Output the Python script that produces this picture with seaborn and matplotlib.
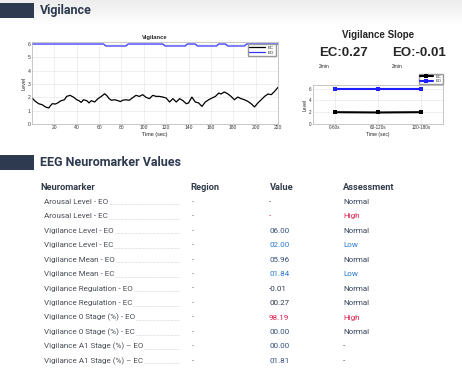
import numpy as np
import pandas as pd
import matplotlib
matplotlib.use("Agg")
import matplotlib.pyplot as plt
import seaborn as sns
from matplotlib.lines import Line2D
from matplotlib.patches import Rectangle

# --- data ---
ec_time = [0, 3, 6, 9, 12, 15, 16, 18, 21, 23, 26, 29, 31, 34, 37, 40, 42, 44, 46, 49,
           51, 53, 56, 59, 62, 65, 67, 69, 71, 74, 77, 79, 81, 84, 87, 90, 93, 96, 99, 102,
           105, 108, 111, 114, 117, 120, 123, 126, 129, 132, 135, 138, 140, 143, 146, 149, 152, 155, 158, 161,
           164, 167, 169, 172, 175, 178, 181, 184, 187, 190, 193, 196, 199, 202, 205, 208, 211, 214, 217, 220]
ec_level = [1.95, 1.7, 1.52, 1.45, 1.28, 1.2, 1.32, 1.52, 1.5, 1.58,
            1.75, 1.82, 2.07, 2.15, 2.02, 1.82, 1.75, 1.62, 1.82, 1.75,
            1.58, 1.75, 1.65, 1.9, 2.07, 2.27, 2.12, 1.9, 1.78, 1.82,
            1.75, 1.68, 1.78, 1.82, 1.78, 1.97, 2.15, 2.07, 2.2, 2.0,
            1.9, 2.15, 2.07, 2.07, 2.02, 1.95, 1.65, 1.9, 1.65, 1.9,
            1.75, 1.52, 1.58, 2.02, 1.65, 1.58, 1.32, 1.65, 1.82, 1.95,
            2.07, 2.32, 2.25, 2.4, 2.27, 2.07, 1.82, 2.02, 1.9, 1.82,
            1.7, 1.52, 1.28, 1.58, 1.82, 2.07, 2.25, 2.2, 2.45, 2.75]
eo_time = [0, 64, 66, 84, 86, 117, 119, 137, 139, 146, 148, 165, 167, 173, 175, 190, 192, 220]
eo_level = [6, 6, 5.85, 5.85, 6, 6, 5.85, 5.85, 6, 6, 5.85, 5.85, 6, 6, 5.85, 5.85, 6, 6]

slope_bins = ["0-60s", "60-120s", "120-180s"]
slope_ec = [2.0, 1.95, 2.0]
slope_eo = [6.0, 6.0, 6.0]
slope_ec_text = "EC:0.27"
slope_eo_text = "EO:-0.01"

markers = ["Arousal Level - EO", "Arousal Level - EC", "Vigilance Level - EO", "Vigilance Level - EC",
           "Vigilance Mean - EO", "Vigilance Mean - EC", "Vigilance Regulation - EO",
           "Vigilance Regulation - EC", "Vigilance 0 Stage (%) - EO", "Vigilance 0 Stage (%) - EC",
           "Vigilance A1 Stage (%) \u2013 EO", "Vigilance A1 Stage (%) \u2013 EC"]
regions = ["-"] * 12
values = ["-", "-", "06.00", "02.00", "05.96", "01.84", "-0.01", "00.27", "98.19", "00.00", "00.00", "01.81"]
value_tone = ["navy", "red", "navy", "blue", "navy", "blue", "dark", "dark", "red", "navy", "navy", "navy"]
assessments = ["Normal", "High", "Normal", "Low", "Normal", "Low", "Normal", "Normal", "High", "Normal", "-", "-"]

W, H = 462, 380
NAVY = "#2e3a4f"
tones = {"navy": "#34507e", "blue": "#2a78d0", "red": "#d81f4f", "dark": "#2e3a4f"}
assess_col = {"Normal": "#34435e", "High": "#d81f4f", "Low": "#2a78d0", "-": "#444444"}

sns.set_theme(style="whitegrid")
plt.rcParams["font.family"] = ["Liberation Sans", "DejaVu Sans"]


def box(l, t, r, b):
    return [l / W, 1 - b / H, (r - l) / W, (b - t) / H]


def fx(x):
    return x / W


def fy(y):
    return 1 - y / H


fig = plt.figure(figsize=(W / 100, H / 100), dpi=100)
fig.patch.set_facecolor("white")

# soft header band at the top
bg = fig.add_axes([0, 0, 1, 1], zorder=-5)
bg.set_axis_off()
grad = np.linspace(0.93, 1.0, 50).reshape(-1, 1)
bg.imshow(np.dstack([grad, grad, grad]), extent=[0, 1, 1 - 26 / H, 1], aspect="auto")
bg.set_xlim(0, 1)
bg.set_ylim(0, 1)

# section headers
for top, title in [(3, "Vigilance"), (155, "EEG Neuromarker Values")]:
    fig.add_artist(Rectangle((0, fy(top + 15)), 34 / W, 15 / H, transform=fig.transFigure,
                             color=NAVY, lw=0))
    fig.text(fx(40), fy(top + 7.5), title, fontsize=9, fontweight="bold", color=NAVY,
             va="center", ha="left", family=["Roboto", "DejaVu Sans"])

grid_kw = dict(color="#e3e3e3", linewidth=0.4)

# --- main vigilance trace ---
df = pd.concat([
    pd.DataFrame({"t": ec_time, "level": ec_level, "cond": "EC"}),
    pd.DataFrame({"t": eo_time, "level": eo_level, "cond": "EO"}),
])
ax = fig.add_axes(box(32, 42, 278, 124))
sns.lineplot(data=df, x="t", y="level", hue="cond", palette={"EC": "black", "EO": "#3535ff"},
             estimator=None, sort=False, linewidth=0.9, ax=ax)
ax.set_xlim(0, 220)
ax.set_ylim(0, 6.15)
ax.set_xticks(range(20, 221, 20))
ax.set_yticks(range(0, 7))
ax.grid(True, **grid_kw)
ax.tick_params(labelsize=3.6, pad=1, colors="#333333", length=0)
for s in ax.spines.values():
    s.set_color("#b0b0b0")
    s.set_linewidth(0.5)
ax.set_title("Vigilance", fontsize=4.2, fontweight="bold", pad=2)
ax.set_xlabel("Time (sec)", fontsize=4, labelpad=1)
ax.set_ylabel("Level", fontsize=4, labelpad=1)
ax.legend(loc="upper right", fontsize=3.2, handlelength=3.5, borderpad=0.3, labelspacing=0.2,
          framealpha=1, edgecolor="#999999", fancybox=False, title=None)

# --- vigilance slope panel ---
fig.text(fx(378), fy(35), "Vigilance Slope", fontsize=7, fontweight="bold", ha="center", va="center")
fig.text(fx(319), fy(53), slope_ec_text, fontsize=9.5, fontweight="bold", ha="left", va="center")
fig.text(fx(392), fy(53), slope_eo_text, fontsize=9.5, fontweight="bold", ha="left", va="center")
fig.text(fx(319), fy(66), "2min", fontsize=3.5, ha="left", va="center")
fig.text(fx(392), fy(66), "2min", fontsize=3.5, ha="left", va="center")

pos = list(range(len(slope_bins)))
sdf = pd.concat([
    pd.DataFrame({"x": pos, "v": slope_ec, "cond": "EC"}),
    pd.DataFrame({"x": pos, "v": slope_eo, "cond": "EO"}),
])
ax2 = fig.add_axes(box(313, 85, 443, 124))
sns.lineplot(data=sdf, x="x", y="v", hue="cond", palette={"EC": "black", "EO": "#1f1fff"},
             marker="s", markersize=3, markeredgewidth=0, linewidth=1.5, estimator=None, ax=ax2)
ax2.set_xlim(-0.5, 2.5)
ax2.set_ylim(0, 6.6)
ax2.set_xticks(pos)
ax2.set_xticklabels(slope_bins)
ax2.set_yticks([0, 2, 4, 6])
ax2.grid(True, **grid_kw)
ax2.tick_params(labelsize=3.3, pad=1, colors="#333333", length=0)
for s in ax2.spines.values():
    s.set_color("#b0b0b0")
    s.set_linewidth(0.5)
ax2.set_xlabel("Time (sec)", fontsize=3.6, labelpad=1)
ax2.set_ylabel("Level", fontsize=3.6, labelpad=1)
ax2.legend(loc="lower right", bbox_to_anchor=(1.0, 1.02), fontsize=3, handlelength=3,
           borderpad=0.25, labelspacing=0.15, borderaxespad=0, framealpha=1,
           edgecolor="#999999", fancybox=False, title=None)

# --- neuromarker table ---
tfam = ["Roboto", "DejaVu Sans"]
for x, head in [(40, "Neuromarker"), (190, "Region"), (270, "Value"), (343, "Assessment")]:
    fig.text(fx(x), fy(187), head, fontsize=6.7, fontweight="bold", color="#333c4a",
             ha="left", va="center", family=tfam)

for i, name in enumerate(markers):
    y = 202 + 14.45 * i
    fig.add_artist(Line2D([fx(44), fx(180)], [fy(y + 2.5), fy(y + 2.5)], transform=fig.transFigure,
                          color="#c8c8c8", lw=0.5, ls=(0, (1, 1)), zorder=1))
    fig.text(fx(44), fy(y), name, fontsize=5.8, color="#4a4f57", ha="left", va="center",
             family=tfam, zorder=3,
             bbox=dict(facecolor="white", edgecolor="none", pad=0.6))
    fig.text(fx(192), fy(y), regions[i], fontsize=5.8, color="#666666", ha="left", va="center",
             family=tfam)
    fig.text(fx(269), fy(y), values[i], fontsize=5.8, color=tones[value_tone[i]], ha="left",
             va="center", family=tfam)
    fig.text(fx(343), fy(y), assessments[i], fontsize=5.8, color=assess_col[assessments[i]],
             ha="left", va="center", family=tfam)

fig.savefig("out.png", dpi=100)
